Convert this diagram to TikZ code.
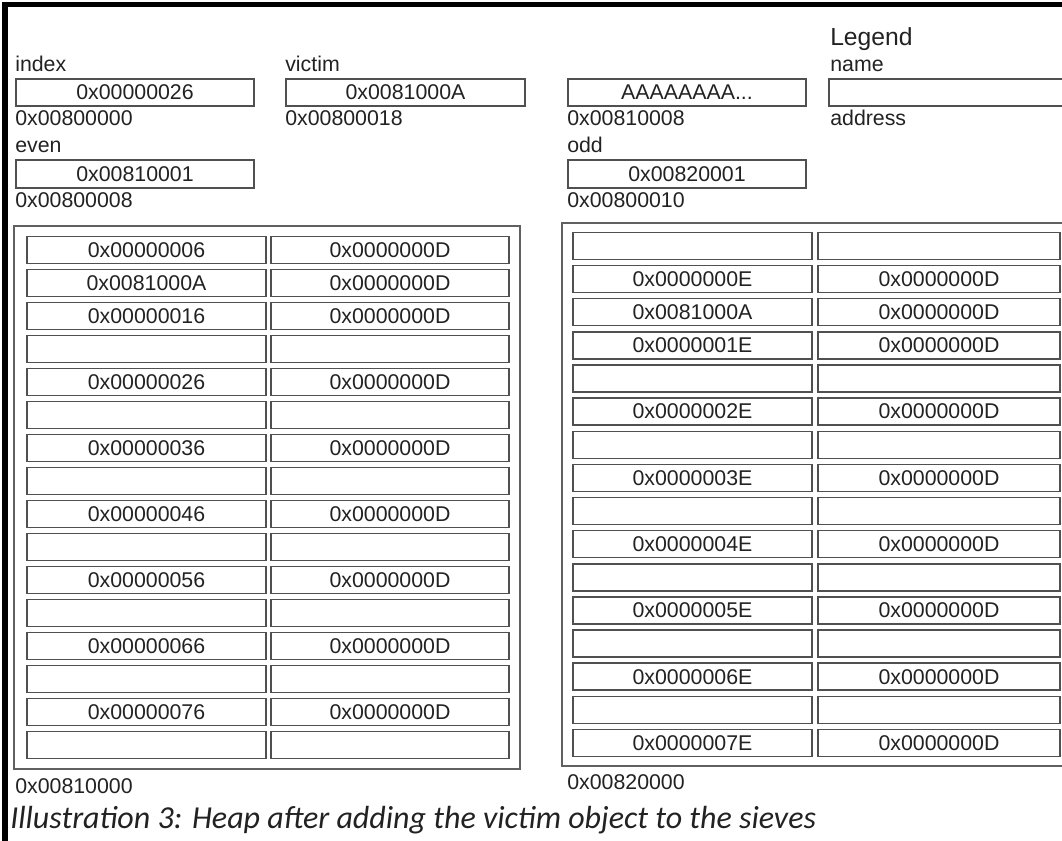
\documentclass[tikz,border=0pt]{standalone}
\usepackage{fontspec}
\setmainfont{Liberation Sans}
\newfontfamily\capfont{Carlito}
\definecolor{txt}{HTML}{222222}
\definecolor{edge}{HTML}{505050}
\definecolor{frm}{HTML}{606060}
\begin{document}
\begin{tikzpicture}[x=0.75pt,y=-0.75pt,
  cell/.style={draw=edge,line width=1.1pt,minimum height=20.25pt,inner sep=0pt,
    text=txt,font=\fontsize{16}{18}\selectfont,anchor=center},
  lab/.style={anchor=base west,inner sep=0pt,text=txt,font=\fontsize{16}{18}\selectfont},
  frame/.style={draw=frm,line width=0.9pt,inner sep=0pt,minimum height=407.25pt},
  bar/.style={fill=black}]
\useasboundingbox (0,0) rectangle (1062,841);
\clip (0,0) rectangle (1062,841);
% page borders
\fill[bar] (2,2) rectangle (8,841);
\fill[bar] (2,2) rectangle (1062,7);
% legend
\node[lab,font=\fontsize{18.5}{20}\selectfont] (legend) at (830,46) {Legend};
\node[lab] (legname) at (830,72) {name};
\node[cell,minimum width=184.5pt] (legbox) at (952,92.5) {};
\node[lab] (legaddr) at (830,126) {address};
% variables
\node[lab] (indexlab) at (15,72) {index};
\node[cell,minimum width=178.5pt] (index) at (135,92.5) {0x00000026};
\node[lab] (indexaddr) at (15,126) {0x00800000};
\node[lab] (victimlab) at (285,72) {victim};
\node[cell,minimum width=179.25pt] (victim) at (405.5,92.5) {0x0081000A};
\node[lab] (victimaddr) at (285,126) {0x00800018};
\node[cell,minimum width=178.5pt] (obj) at (687,92.5) {AAAAAAAA...};
\node[lab] (objaddr) at (567,126) {0x00810008};
\node[lab] (evenlab) at (15,153) {even};
\node[cell,minimum width=178.5pt,minimum height=21pt] (even) at (135,174) {0x00810001};
\node[lab] (evenaddr) at (15,208) {0x00800008};
\node[lab] (oddlab) at (567,153) {odd};
\node[cell,minimum width=178.5pt,minimum height=21pt] (odd) at (687,174) {0x00820001};
\node[lab] (oddaddr) at (567,208) {0x00800010};
% even sieve
\node[frame,minimum width=379.5pt] (Lframe) at (267,497.5) {};
\foreach \k/\a/\b in {1/0x00000006/0x0000000D,2/0x0081000A/0x0000000D,3/0x00000016/0x0000000D,4/{}/{},
  5/0x00000026/0x0000000D,6/{}/{},7/0x00000036/0x0000000D,8/{}/{},9/0x00000046/0x0000000D,10/{}/{},
  11/0x00000056/0x0000000D,12/{}/{},13/0x00000066/0x0000000D,14/{}/{},15/0x00000076/0x0000000D,16/{}/{}}{
  \node[cell,minimum width=179.25pt] (La\k) at (146.5,{250+33*(\k-1)}) {\a};
  \node[cell,minimum width=178.5pt] (Lb\k) at (390,{250+33*(\k-1)}) {\b};
}
\node[lab] (Laddr) at (15,793) {0x00810000};
% odd sieve
\node[frame,minimum width=388.5pt] (Rframe) at (821,494.5) {};
\foreach \k/\a/\b in {1/{}/{},2/0x0000000E/0x0000000D,3/0x0081000A/0x0000000D,4/0x0000001E/0x0000000D,
  5/{}/{},6/0x0000002E/0x0000000D,7/{}/{},8/0x0000003E/0x0000000D,9/{}/{},10/0x0000004E/0x0000000D,
  11/{}/{},12/0x0000005E/0x0000000D,13/{}/{},14/0x0000006E/0x0000000D,15/{}/{},16/0x0000007E/0x0000000D}{
  \node[cell,minimum width=179.25pt] (Ra\k) at (692.5,{246+33.13*(\k-1)}) {\a};
  \node[cell,minimum width=181.5pt] (Rb\k) at (939,{246+33.13*(\k-1)}) {\b};
}
\node[lab] (Raddr) at (567,789) {0x00820000};
% caption
\node[anchor=base west,inner sep=0pt,text=txt,font=\capfont\itshape\fontsize{24}{28}\selectfont] (caption) at (10,828)
  {Illustration 3: Heap after adding the victim object to the sieves};
\end{tikzpicture}
\end{document}
